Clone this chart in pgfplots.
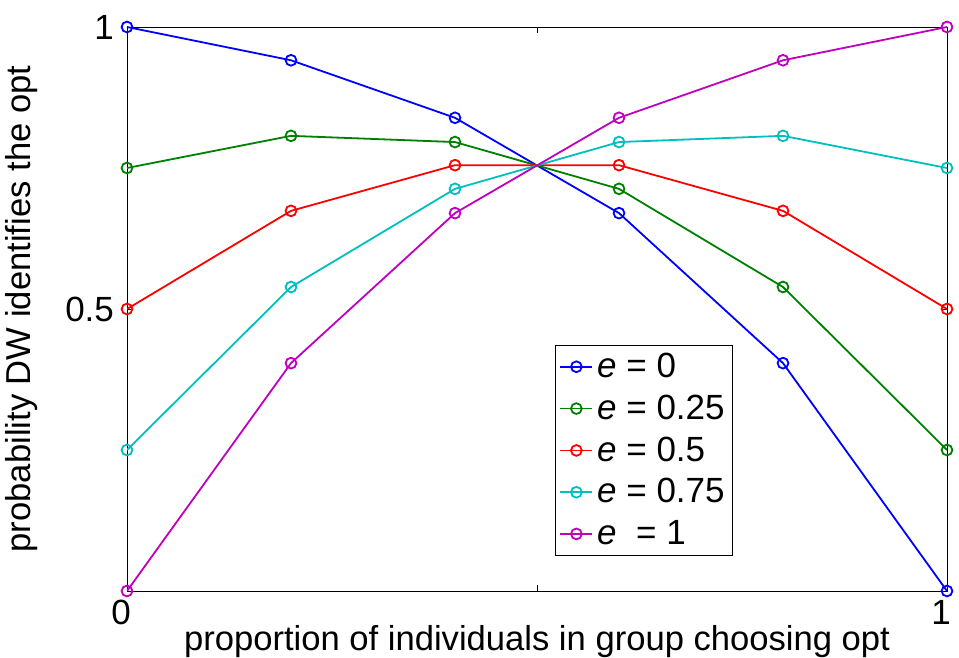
\documentclass[border=0pt]{standalone}
\usepackage{pgfplots}
\pgfplotsset{compat=1.18}
\usepackage{fontspec}
\setmainfont{Liberation Sans}
\definecolor{mblue}{rgb}{0,0,1}
\definecolor{mgreen}{rgb}{0,0.5,0}
\definecolor{mred}{rgb}{1,0,0}
\definecolor{mcyan}{rgb}{0,0.75,0.75}
\definecolor{mmag}{rgb}{0.75,0,0.75}
\begin{document}
\begin{tikzpicture}
\path[use as bounding box] (-63.5pt,-33.5pt) rectangle (416pt,295.5pt);
\begin{axis}[
  at={(0,0)}, anchor=south west,
  scale only axis, width=410pt, height=282pt,
  xmin=0, xmax=1, ymin=0, ymax=1,
  xtick={0,0.5,1}, xticklabels={0,,1},
  ytick={0,0.5,1}, yticklabels={,0.5,1},
  tick align=inside, major tick length=3pt,
  tick style={black, line width=0.4pt},
  /pgf/number format/assume math mode=true,
  tick label style={font=\fontsize{17.5}{20}\selectfont},
  xticklabel style={xshift=-3pt, yshift=-1pt},
  yticklabel style={xshift=-3pt},
  xlabel={proportion of individuals in group choosing opt},
  ylabel={probability DW identifies the opt},
  label style={font=\fontsize{17.3}{20}\selectfont},
  xlabel style={at={(axis description cs:0.5,0)}, anchor=base, yshift=-30pt},
  ylabel style={at={(axis description cs:0,0.5)}, anchor=base, yshift=48pt},
  every axis plot/.append style={line width=0.9pt, mark=o, mark size=2.7pt, mark options={solid, line width=0.9pt}},
  legend style={at={(0.522,0.437)}, anchor=north west, font=\fontsize{17.5}{20}\selectfont,
    draw=black, line width=0.5pt, inner xsep=2pt, inner ysep=2pt, row sep=3.2pt},
  legend cell align=left,
  legend image code/.code={\draw[#1] (0cm,0cm) -- (0.56cm,0cm); \draw[#1, mark repeat=2, mark phase=2] plot coordinates {(0cm,0cm) (0.28cm,0cm) (0.56cm,0cm)};},
]
\addplot[mblue] coordinates {(0,1) (0.2,0.941) (0.4,0.839) (0.6,0.670) (0.8,0.404) (1,0)};
\addplot[mgreen] coordinates {(0,0.75) (0.2,0.807) (0.4,0.796) (0.6,0.713) (0.8,0.539) (1,0.25)};
\addplot[mred] coordinates {(0,0.5) (0.2,0.674) (0.4,0.755) (0.6,0.755) (0.8,0.674) (1,0.5)};
\addplot[mcyan] coordinates {(0,0.25) (0.2,0.539) (0.4,0.713) (0.6,0.796) (0.8,0.807) (1,0.75)};
\addplot[mmag] coordinates {(0,0) (0.2,0.404) (0.4,0.670) (0.6,0.839) (0.8,0.941) (1,1)};
\legend{\textit{e} = 0, \textit{e} = 0.25, \textit{e} = 0.5, \textit{e} = 0.75, \textit{e}\ \ = 1}
\end{axis}
\end{tikzpicture}
\end{document}
